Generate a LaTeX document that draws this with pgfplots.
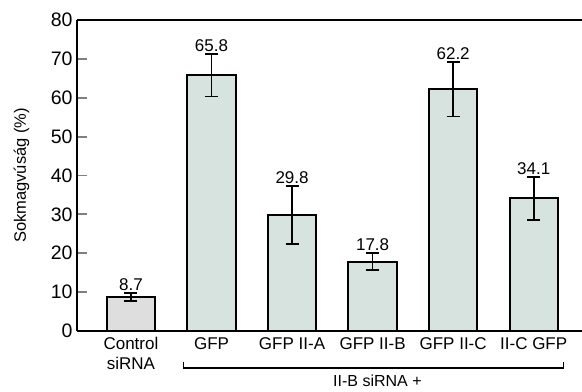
\documentclass[border=0pt]{standalone}
\usepackage{pgfplots}
\pgfplotsset{compat=1.18}
\usepackage{fontspec}
\setmainfont{Liberation Sans}
\definecolor{barg}{RGB}{214,227,222}
\definecolor{barc}{RGB}{222,222,222}
\begin{document}
\begin{tikzpicture}
\begin{axis}[
  scale only axis, width=505pt, height=311pt,
  xmin=-0.67, xmax=5.6, ymin=0, ymax=80,
  axis x line*=bottom, axis y line*=left,
  axis line style={line width=2pt,-},
  ytick={0,10,...,80},
  ytick style={line width=1.8pt}, tick align=inside, major tick length=10pt,
  xtick={0,...,5}, xtick style={draw=none},
  xticklabels={{Control\\siRNA},GFP,GFP II-A,GFP II-B,GFP II-C,II-C GFP},
  xticklabel style={align=center, font=\fontsize{17}{19.5}\selectfont, yshift=-3pt},
  yticklabel style={font=\fontsize{19.5}{19.5}\selectfont, xshift=-1pt},
  /pgf/number format/assume math mode=true,
  ylabel={Sokmagvúság (\%)},
  ylabel style={font=\fontsize{16.5}{16.5}\selectfont, at={(axis description cs:-0.11,0.5)}, anchor=center},
  clip=false,
]
\addplot[ybar, bar width=0.6, fill=barc, draw=black, line width=2pt,
  error bars/.cd, y dir=both, y explicit,
  error bar style={line width=1.8pt},
  error mark options={rotate=90, mark size=6.5pt, line width=1.8pt}]
  coordinates {(0,8.7) +- (0,1.0)};
\addplot[ybar, bar width=0.6, fill=barg, draw=black, line width=2pt,
  error bars/.cd, y dir=both, y explicit,
  error bar style={line width=1.8pt},
  error mark options={rotate=90, mark size=6.5pt, line width=1.8pt}]
  coordinates {(1,65.8) +- (0,5.5) (2,29.8) +- (0,7.5) (3,17.8) +- (0,2.2) (4,62.2) +- (0,7.0) (5,34.1) +- (0,5.6)};
\addplot[draw=none, mark=none, nodes near coords, point meta=explicit symbolic,
  nodes near coords style={font=\fontsize{17}{17}\selectfont, anchor=south, inner sep=2pt}]
  table[meta=l] {
x y l
0 9.7 8.7
1 71.3 65.8
2 37.3 29.8
3 20.0 17.8
4 69.2 62.2
5 39.7 34.1
};
\draw[line width=2pt] (rel axis cs:0,1) -- (rel axis cs:1,1);
\draw[line width=1.3pt] (axis cs:0.65,-8) -- (axis cs:0.65,-9.5) -- (axis cs:5.37,-9.5) -- (axis cs:5.37,-8);
\node[font=\fontsize{16}{16}\selectfont, anchor=south, inner sep=0.5pt] at (axis cs:3.06,-14.4) {II-B siRNA +};
\coordinate (bbl) at (rel axis cs:-0.1525,-0.196);
\coordinate (btr) at (rel axis cs:1,1.0643);
\end{axis}
\pgfresetboundingbox
\useasboundingbox (bbl) rectangle (btr);
\end{tikzpicture}
\end{document}
